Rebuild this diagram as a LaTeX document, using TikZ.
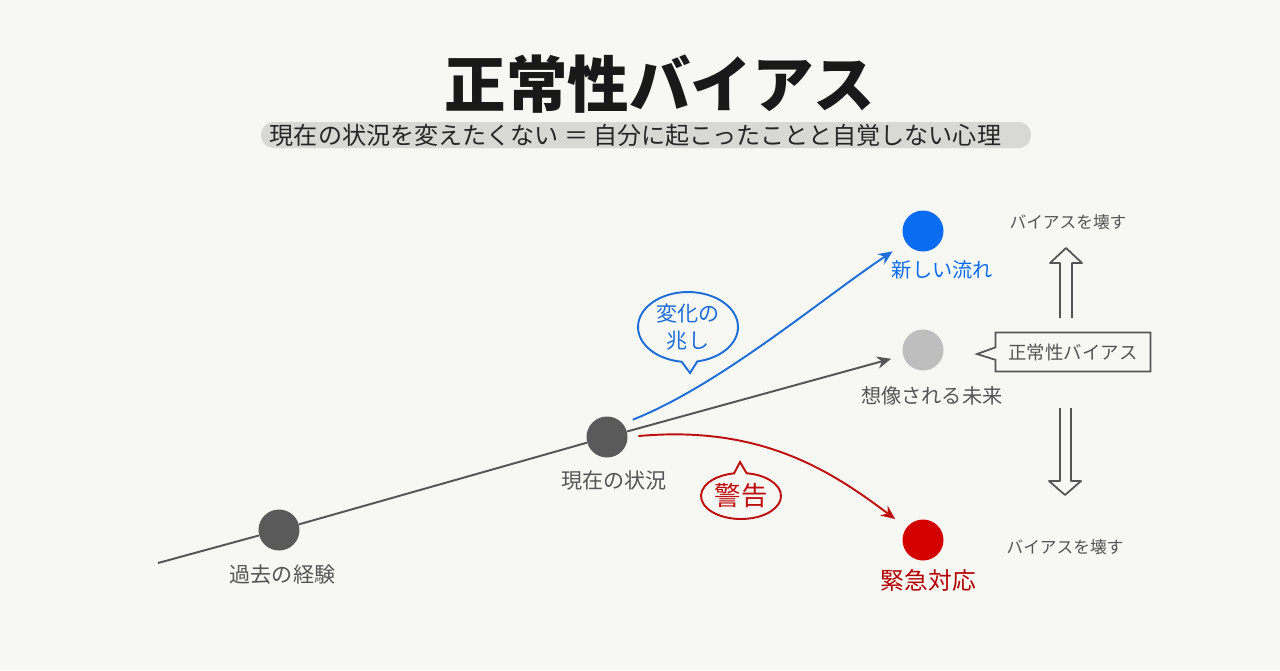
\documentclass[tikz,border=0pt]{standalone}
\usepackage{fontspec}
\newfontfamily\jp{Noto Sans CJK JP}
\usetikzlibrary{arrows.meta,positioning,shapes.callouts}
\definecolor{paper}{RGB}{247,247,243}
\definecolor{hilite}{RGB}{216,216,212}
\definecolor{ink}{RGB}{85,85,85}
\definecolor{dot}{RGB}{90,90,90}
\definecolor{fog}{RGB}{190,190,190}
\definecolor{sky}{RGB}{10,108,240}
\definecolor{skyline}{RGB}{30,110,215}
\definecolor{alarm}{RGB}{210,0,0}
\definecolor{alarmline}{RGB}{190,15,15}

\begin{document}
\begin{tikzpicture}[x=0.02cm, y=-0.02cm,
  spot/.style={circle, minimum size=0.82cm, inner sep=0pt},
  tag/.style={font=\jp\fontsize{12}{14}\selectfont, text=ink, inner sep=1pt},
  flow/.style={line width=1.1pt, -{Stealth[length=8pt, width=7pt]}}]
			%%%%% START %%%%%
			
			\fill[paper] (0, 0) rectangle (1280, 670);
			\useasboundingbox (0, 0) rectangle (1280, 670);
			
			\node[font=\jp\bfseries\fontsize{35}{40}\selectfont, text=black!90] (title) at (660, 84) {正常性バイアス};
			\node[fill=hilite, rounded corners=7pt, minimum width=15.4cm, minimum height=0.52cm, inner sep=0pt,
			      font=\jp\fontsize{13.7}{15}\selectfont, text=black!85] (sub) at (646, 135)
			      {現在の状況を変えたくない ＝ 自分に起こったことと自覚しない心理\hspace*{12pt}};
			
			\coordinate (start) at (158, 563);
			\node[spot, fill=dot] (past) at (279, 530) {};
			\node[spot, fill=dot] (now) at (607, 437) {};
			\node[spot, fill=sky] (newflow) at (923, 231) {};
			\node[spot, fill=fog] (future) at (923, 350) {};
			\node[spot, fill=alarm] (urgent) at (923, 540) {};
			
			\node[tag, below=7pt of past, xshift=2pt] {過去の経験};
			\node[tag, below=6pt of now, xshift=4pt] {現在の状況};
			\node[tag, below=4pt of newflow, xshift=11pt, text=sky, font=\jp\fontsize{11.5}{14}\selectfont] {新しい流れ};
			\node[tag, below=8pt of future, xshift=5pt, font=\jp\fontsize{11.5}{14}\selectfont] {想像される未来};
			\node[tag, below=4pt of urgent, xshift=3pt, text=alarm!85!black, font=\jp\fontsize{13.5}{15}\selectfont] {緊急対応};
			
			\draw[line width=1.1pt, color=ink] (start) -- (past) -- (now);
			\draw[flow, color=ink, shorten >=7pt] (now) -- (future);
			\draw[flow, color=skyline, shorten <=6pt, shorten >=9pt] (now.40) .. controls (720, 385) and (820, 300) .. (newflow);
			\draw[flow, color=alarmline, shorten <=6pt, shorten >=8pt] (now.east) .. controls (760, 425) and (830, 470) .. (urgent);
			
			\node[ellipse callout, draw=skyline, line width=1.1pt, minimum width=2.0cm, minimum height=1.4cm,
			      callout absolute pointer={(690, 373)}, callout pointer arc=18, align=center, inner sep=0pt,
			      font=\jp\fontsize{12}{15}\selectfont, text=skyline] (hint) at (688, 327) {変化の\\兆し};
			\node[ellipse callout, draw=alarmline, line width=1.1pt, minimum width=1.6cm, minimum height=0.92cm,
			      callout absolute pointer={(740, 462)}, callout pointer arc=18, inner sep=0pt,
			      font=\jp\fontsize{15}{17}\selectfont, text=alarmline] (warn) at (741, 496) {警告};
			\node[rectangle callout, draw=ink, line width=1pt, minimum width=3.1cm, minimum height=0.78cm,
			      callout absolute pointer={(977, 354)}, callout pointer width=0.25cm, inner sep=0pt,
			      font=\jp\fontsize{10.5}{12}\selectfont, text=ink] (bias) at (1073, 352) {正常性バイアス};
			
			\draw[line width=1pt, color=ink, line join=round] (1060, 318) -- (1060, 263) -- (1050, 263) -- (1066, 248)
			      -- (1082, 263) -- (1072, 263) -- (1072, 318);
			\draw[line width=1pt, color=ink, line join=round] (1060, 408) -- (1060, 481) -- (1049, 481) -- (1065, 495)
			      -- (1081, 481) -- (1071, 481) -- (1071, 408);
			
			\node[tag, font=\jp\fontsize{9.5}{11}\selectfont] (breakup) at (1068, 222) {バイアスを壊す};
			\node[tag, font=\jp\fontsize{9.5}{11}\selectfont] (breakdown) at (1065, 547) {バイアスを壊す};
			
			%%%%% END %%%%%
\end{tikzpicture}
\end{document}
